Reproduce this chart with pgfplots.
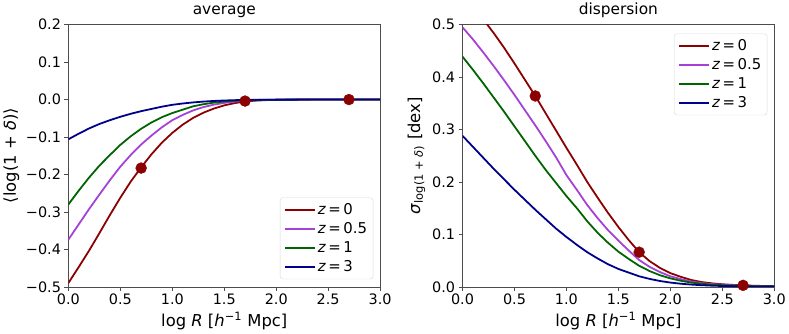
\documentclass[border=0pt]{standalone}
\usepackage{fontspec}
\setmainfont{DejaVu Sans}
\usepackage{pgfplots}
\pgfplotsset{compat=1.18}

\definecolor{zred}{RGB}{139,0,0}
\definecolor{zpurple}{RGB}{165,65,215}
\definecolor{zgreen}{RGB}{0,100,0}
\definecolor{zblue}{RGB}{0,0,139}

\pgfplotsset{
  panel/.style={
    width=314pt, height=264pt, scale only axis,
    xmin=0, xmax=3,
    xtick={0,0.5,1,1.5,2,2.5,3},
    xticklabels={0.0,0.5,1.0,1.5,2.0,2.5,3.0},
    tick align=outside, xtick pos=left, ytick pos=left,
    major tick length=4pt,
    axis line style={black!70},
    every tick/.style={black!70},
    tick label style={font=\fontsize{14.5}{17}\selectfont},
    label style={font=\fontsize{16.5}{19}\selectfont},
    title style={font=\fontsize{15.5}{18}\selectfont, yshift=-3pt},
    xlabel={log \textit{R} [\textit{h}\textsuperscript{−1} Mpc]},
    legend cell align=left,
    legend image code/.code={\draw[##1, line width=2.1pt] (0pt,0pt) -- (30pt,0pt);},
    legend style={draw=black!15, rounded corners=3pt,
      font=\fontsize{15}{18}\selectfont, row sep=2.5pt, inner sep=4pt},
  },
  curve/.style={line width=1.8pt, no marks},
  dots/.style={only marks, mark=*, mark size=5.5pt, color=zred, forget plot},
}

\begin{document}
\begin{tikzpicture}
\begin{axis}[panel,
  title={average},
  ymin=-0.5, ymax=0.2,
  ytick={-0.5,-0.4,-0.3,-0.2,-0.1,0,0.1,0.2},
  yticklabels={−0.5,−0.4,−0.3,−0.2,−0.1,0.0,0.1,0.2},
  ylabel={⟨log(1 + \textit{δ})⟩},
  legend style={at={(0.978,0.029)}, anchor=south east},
]
\addplot[curve, zred] coordinates {
  (0,-0.490) (0.1,-0.447) (0.2,-0.403) (0.3,-0.356) (0.4,-0.308) (0.5,-0.262)
  (0.6,-0.219) (0.7,-0.181) (0.8,-0.146) (0.9,-0.115) (1.0,-0.089) (1.1,-0.067)
  (1.2,-0.049) (1.3,-0.035) (1.4,-0.024) (1.5,-0.0155) (1.6,-0.0095) (1.7,-0.0052)
  (1.8,-0.0029) (1.9,-0.0015) (2.0,-0.0008) (2.2,-0.0002) (2.5,0) (3.0,0)
};
\addplot[curve, zpurple] coordinates {
  (0,-0.374) (0.1,-0.333) (0.2,-0.292) (0.3,-0.253) (0.4,-0.215) (0.5,-0.179)
  (0.6,-0.148) (0.7,-0.120) (0.8,-0.096) (0.9,-0.074) (1.0,-0.055) (1.1,-0.041)
  (1.2,-0.029) (1.3,-0.020) (1.4,-0.0136) (1.5,-0.0089) (1.6,-0.0055) (1.7,-0.0030)
  (1.8,-0.0017) (1.9,-0.0009) (2.0,-0.0005) (2.2,-0.0001) (2.5,0) (3.0,0)
};
\addplot[curve, zgreen] coordinates {
  (0,-0.280) (0.1,-0.243) (0.2,-0.208) (0.3,-0.176) (0.4,-0.148) (0.5,-0.121)
  (0.6,-0.098) (0.7,-0.078) (0.8,-0.061) (0.9,-0.047) (1.0,-0.036) (1.1,-0.027)
  (1.2,-0.018) (1.3,-0.0124) (1.4,-0.0082) (1.5,-0.0052) (1.6,-0.0032) (1.7,-0.0018)
  (1.8,-0.0010) (1.9,-0.0006) (2.0,-0.0003) (2.2,-0.0001) (2.5,0) (3.0,0)
};
\addplot[curve, zblue] coordinates {
  (0,-0.106) (0.1,-0.091) (0.2,-0.077) (0.3,-0.065) (0.4,-0.055) (0.5,-0.046)
  (0.6,-0.038) (0.7,-0.031) (0.8,-0.025) (0.9,-0.019) (1.0,-0.014) (1.1,-0.0105)
  (1.2,-0.0076) (1.3,-0.0054) (1.4,-0.0037) (1.5,-0.0025) (1.6,-0.0016) (1.7,-0.0010)
  (1.8,-0.0006) (2.0,-0.0002) (2.5,0) (3.0,0)
};
\addplot[dots] coordinates {(0.7,-0.183) (1.7,-0.004) (2.7,0.0)};
\legend{\textit{z}\,=\,0, \textit{z}\,=\,0.5, \textit{z}\,=\,1, \textit{z}\,=\,3}
\end{axis}

\begin{axis}[panel, xshift=397pt,
  title={dispersion},
  ymin=0, ymax=0.5,
  ytick={0,0.1,0.2,0.3,0.4,0.5},
  yticklabels={0.0,0.1,0.2,0.3,0.4,0.5},
  ylabel={\textit{σ}\textsubscript{log(1 + \textit{δ})} [dex]},
  legend style={at={(0.978,0.966)}, anchor=north east},
]
\addplot[curve, zred] coordinates {
  (0,0.551) (0.1,0.531) (0.2,0.510) (0.3,0.484) (0.4,0.456) (0.5,0.426)
  (0.6,0.395) (0.7,0.364) (0.8,0.331) (0.9,0.298) (1.0,0.265) (1.1,0.233)
  (1.2,0.200) (1.3,0.170) (1.4,0.141) (1.5,0.114) (1.6,0.089) (1.7,0.066)
  (1.8,0.049) (1.9,0.036) (2.0,0.026) (2.1,0.019) (2.2,0.013) (2.3,0.009)
  (2.4,0.0065) (2.5,0.0048) (2.6,0.0036) (2.7,0.0027) (2.8,0.0020) (2.9,0.0015) (3.0,0.0011)
};
\addplot[curve, zpurple] coordinates {
  (0,0.495) (0.1,0.472) (0.2,0.447) (0.3,0.421) (0.4,0.394) (0.5,0.366)
  (0.6,0.337) (0.7,0.308) (0.8,0.278) (0.9,0.247) (1.0,0.213) (1.1,0.185)
  (1.2,0.156) (1.3,0.131) (1.4,0.108) (1.5,0.088) (1.6,0.069) (1.7,0.051)
  (1.8,0.038) (1.9,0.028) (2.0,0.020) (2.1,0.0146) (2.2,0.010) (2.3,0.007)
  (2.4,0.005) (2.5,0.0037) (2.6,0.0028) (2.7,0.0021) (2.8,0.0015) (2.9,0.0012) (3.0,0.0008)
};
\addplot[curve, zgreen] coordinates {
  (0,0.439) (0.1,0.414) (0.2,0.388) (0.3,0.361) (0.4,0.334) (0.5,0.306)
  (0.6,0.278) (0.7,0.250) (0.8,0.223) (0.9,0.198) (1.0,0.173) (1.1,0.150)
  (1.2,0.125) (1.3,0.103) (1.4,0.084) (1.5,0.067) (1.6,0.053) (1.7,0.040)
  (1.8,0.030) (1.9,0.022) (2.0,0.016) (2.1,0.0115) (2.2,0.008) (2.3,0.0057)
  (2.4,0.004) (2.5,0.003) (2.6,0.0022) (2.7,0.0016) (2.8,0.0012) (2.9,0.0009) (3.0,0.0007)
};
\addplot[curve, zblue] coordinates {
  (0,0.288) (0.1,0.267) (0.2,0.246) (0.3,0.225) (0.4,0.205) (0.5,0.185)
  (0.6,0.166) (0.7,0.147) (0.8,0.129) (0.9,0.111) (1.0,0.095) (1.1,0.080)
  (1.2,0.066) (1.3,0.054) (1.4,0.043) (1.5,0.034) (1.6,0.027) (1.7,0.020)
  (1.8,0.015) (1.9,0.011) (2.0,0.008) (2.1,0.0058) (2.2,0.0042) (2.3,0.0030)
  (2.4,0.0021) (2.5,0.0015) (2.6,0.0011) (2.7,0.0008) (2.8,0.0006) (2.9,0.0004) (3.0,0.0003)
};
\addplot[dots] coordinates {(0.7,0.364) (1.7,0.066) (2.7,0.0027)};
\legend{\textit{z}\,=\,0, \textit{z}\,=\,0.5, \textit{z}\,=\,1, \textit{z}\,=\,3}
\end{axis}
\end{tikzpicture}
\end{document}
